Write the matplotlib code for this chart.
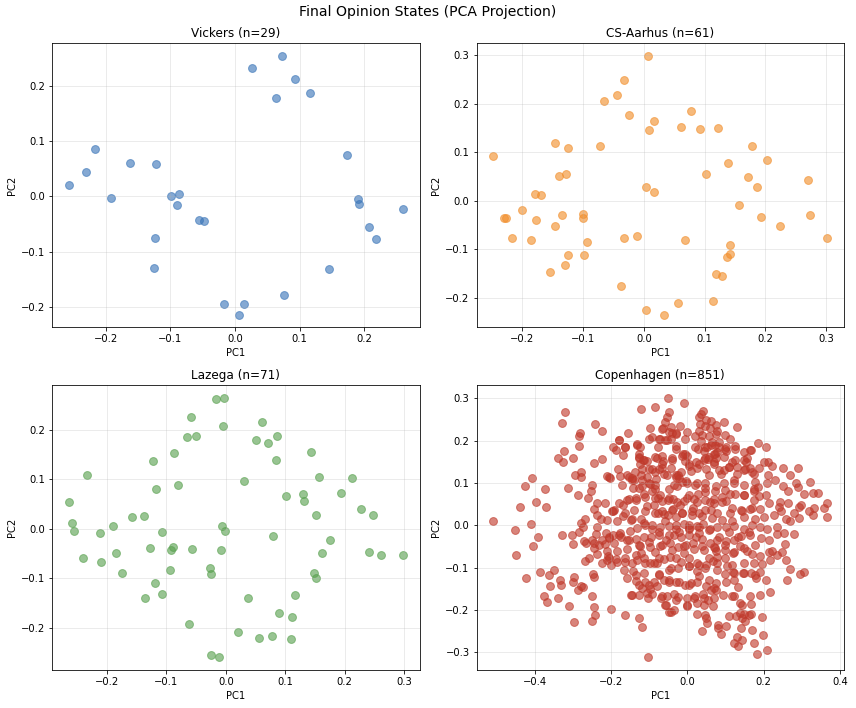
import numpy as np
import matplotlib
matplotlib.use("Agg")
import matplotlib.pyplot as plt

# Vickers (n=29)
vic_pc1 = [-0.257, -0.230, -0.217, -0.192, -0.162, -0.122, -0.099, -0.086, -0.089, -0.056,
           -0.048, -0.124, -0.126, -0.017, 0.014, 0.007, 0.026, 0.073, 0.063, 0.093,
           0.116, 0.076, 0.145, 0.174, 0.190, 0.192, 0.207, 0.219, 0.260]
vic_pc2 = [0.020, 0.045, 0.085, -0.003, 0.061, 0.058, 0.001, 0.004, -0.015, -0.043,
           -0.044, -0.075, -0.130, -0.195, -0.195, -0.214, 0.232, 0.254, 0.178, 0.213,
           0.188, -0.178, -0.131, 0.075, -0.004, -0.013, -0.055, -0.077, -0.023]

# CS-Aarhus (n=61)
aar_pc1 = [-0.248, -0.230, -0.227, -0.218, -0.201, -0.186, -0.180, -0.169, -0.178, -0.155,
           -0.146, -0.147, -0.140, -0.129, -0.135, -0.125, -0.125, -0.130, -0.100, -0.100,
           -0.093, -0.098, -0.072, -0.066, -0.045, -0.032, -0.025, -0.033, -0.038, -0.012,
           0.006, 0.017, 0.009, 0.004, 0.016, 0.003, 0.033, 0.056, 0.061, 0.067,
           0.077, 0.092, 0.122, 0.103, 0.113, 0.119, 0.129, 0.136, 0.142, 0.142,
           0.138, 0.156, 0.172, 0.178, 0.187, 0.192, 0.203, 0.224, 0.270, 0.273,
           0.302]
aar_pc2 = [0.092, -0.036, -0.035, -0.077, -0.018, -0.080, 0.015, 0.013, -0.040, -0.146,
           0.120, -0.051, 0.052, 0.055, -0.029, 0.108, -0.112, -0.133, -0.027, -0.035,
           -0.084, -0.111, 0.113, 0.206, 0.217, 0.249, 0.177, -0.077, -0.176, -0.073,
           0.298, 0.164, 0.146, 0.029, 0.019, -0.224, -0.234, -0.211, 0.152, -0.081,
           0.184, 0.148, 0.149, 0.055, -0.207, -0.150, -0.155, -0.116, -0.109, -0.091,
           0.078, -0.008, 0.049, 0.113, 0.028, -0.033, 0.085, -0.052, 0.044, -0.030,
           -0.076]

# Lazega (n=71)
laz_pc1 = [-0.264, -0.259, -0.256, -0.240, -0.233, -0.212, -0.210, -0.189, -0.184, -0.174,
           -0.158, -0.137, -0.136, -0.127, -0.122, -0.117, -0.120, -0.108, -0.108, -0.093,
           -0.089, -0.094, -0.088, -0.080, -0.065, -0.058, -0.051, -0.057, -0.062, -0.026,
           -0.025, -0.025, -0.012, -0.016, -0.003, -0.004, -0.007, -0.002, -0.008, 0.021,
           0.030, 0.038, 0.050, 0.055, 0.061, 0.071, 0.077, 0.080, 0.086, 0.085,
           0.089, 0.101, 0.109, 0.111, 0.116, 0.130, 0.132, 0.143, 0.151, 0.156,
           0.148, 0.152, 0.162, 0.176, 0.193, 0.213, 0.227, 0.241, 0.248, 0.261,
           0.298]
laz_pc2 = [0.054, 0.011, -0.005, -0.058, 0.109, -0.008, -0.067, 0.006, -0.048, -0.088,
           0.024, 0.026, -0.139, -0.039, 0.137, 0.081, -0.109, -0.006, -0.131, -0.042,
           -0.037, -0.083, 0.153, 0.089, 0.185, 0.226, 0.187, -0.040, -0.191, -0.079,
           -0.090, -0.254, -0.258, 0.262, 0.263, 0.208, 0.005, -0.005, -0.042, -0.207,
           0.097, -0.139, 0.179, -0.221, 0.215, 0.173, -0.216, -0.014, 0.187, 0.139,
           -0.170, 0.067, -0.222, -0.177, -0.134, 0.071, 0.057, 0.154, 0.028, 0.105,
           -0.089, -0.099, -0.049, -0.023, 0.072, 0.103, 0.040, -0.047, 0.027, -0.053,
           -0.053]

# Copenhagen (n=851), dense core approximated
cph_pc1 = [
    # sparse left side
    -0.509, -0.452, -0.449, -0.439, -0.427, -0.424, -0.411, -0.407, -0.406, -0.397,
    -0.392, -0.386, -0.376, -0.374, -0.371, -0.369, -0.362, -0.361, -0.350, -0.340,
    -0.338, -0.333, -0.331, -0.330, -0.326, -0.324, -0.329, -0.320, -0.314, -0.310,
    -0.301, -0.303, -0.300, -0.301, -0.298, -0.297, -0.295, -0.287, -0.286, -0.283,
    -0.283, -0.281, -0.280, -0.280, -0.279, -0.275, -0.283, -0.280, -0.275, -0.270,
    -0.269, -0.267, -0.269, -0.261, -0.259, -0.254, -0.251, -0.251, -0.249, -0.247,
    -0.246, -0.245, -0.244, -0.245, -0.245, -0.242, -0.242, -0.240, -0.237, -0.238,
    -0.237, -0.238, -0.227, -0.223, -0.223, -0.223, -0.223, -0.213, -0.211, -0.209,
    -0.205, -0.205, -0.201, -0.199, -0.198,
    # top band
    -0.050, -0.010, -0.121, -0.085, -0.047, 0.040, 0.036, 0.030, 0.049, 0.061,
    0.096, 0.130, -0.053, -0.059, -0.064, -0.043, -0.019, -0.040, -0.029, 0.000,
    0.034, 0.045, 0.060, 0.074, 0.076, 0.030, 0.020, 0.098, 0.112, -0.155,
    -0.098, -0.094, -0.101, -0.072, -0.053, -0.007, -0.180, 0.185,
    # 0.1 .. 0.2
    -0.194, -0.187, -0.163, -0.168, -0.132, -0.125, -0.128, -0.127, -0.117, -0.107,
    -0.077, -0.080, -0.031, -0.030, -0.011, -0.002, 0.021, 0.023, 0.037, 0.044,
    0.052, 0.062, 0.072, 0.046, 0.054, 0.071, 0.077, 0.074, 0.069, 0.050,
    0.082, 0.102, 0.101, 0.124, 0.149, 0.168, 0.157, 0.154, 0.206, 0.124,
    0.130, 0.108, 0.095, 0.087, 0.148, 0.163, 0.189, 0.200, 0.211, 0.223,
    0.251, 0.289, 0.174, 0.268, 0.211, -0.210, -0.204, -0.182, -0.178,
    -0.152, -0.146, -0.137, -0.118, -0.121, -0.093, -0.066, -0.042, -0.053, -0.024,
    -0.031, -0.017, 0.010, 0.025, -0.041, -0.067, -0.065, -0.106, -0.081, -0.005, 0.003,
    # 0.0 .. 0.1
    -0.140, -0.142, -0.120, -0.097, -0.086, -0.049, -0.027, -0.003, 0.025, 0.045,
    0.076, 0.097, 0.123, 0.149, 0.176, 0.184, 0.210, 0.231, 0.251, 0.263,
    0.286, 0.289, 0.322, 0.329, 0.342, 0.306, 0.367, 0.357, 0.331, 0.320,
    0.329, 0.366, 0.299, 0.294, 0.279, 0.292, 0.264, 0.244, 0.240, 0.245,
    0.226, 0.214, 0.207, 0.187, 0.174, 0.149, 0.124, 0.111, 0.092, 0.102,
    0.071, 0.060, 0.045, 0.028, 0.017, 0.003, -0.010, -0.020, -0.038, -0.052,
    -0.066, -0.076, -0.088, -0.078, -0.062, -0.052, -0.039, -0.029, -0.013, 0.015,
    0.013, 0.031, 0.045, 0.063, 0.079, 0.113, 0.141, 0.165, 0.190, 0.148,
    0.178, 0.200, 0.258, 0.269, -0.114, -0.135, -0.153, -0.169, -0.195, -0.170,
    -0.145, -0.121, -0.106, -0.216,
    # 0.0 .. -0.1
    -0.196, -0.176, -0.151, -0.132, -0.111, -0.092, -0.071, -0.048, -0.029,
    -0.010, 0.003, 0.025, 0.041, 0.059, 0.079, 0.100, 0.123, 0.148, 0.170,
    0.191, 0.210, 0.235, 0.254, 0.279, 0.256, 0.235, 0.213, 0.193, 0.165,
    0.141, 0.123, 0.100, 0.078, 0.059, 0.039, 0.022, 0.003, -0.017, -0.036,
    -0.055, -0.074, -0.095, -0.114, -0.134, -0.153, -0.174, -0.193, -0.215, -0.244,
    -0.210, -0.184, -0.158, -0.123, -0.121, -0.097, -0.071, -0.045, -0.024, -0.004,
    0.017, 0.039, 0.071, 0.076, 0.099, 0.120, 0.139, 0.156, 0.170, 0.191,
    0.213, 0.221, 0.235, 0.249, 0.216, 0.195, 0.259, 0.176, 0.148, 0.118,
    0.099, 0.079, 0.067, 0.048, 0.025, 0.004, -0.010, -0.029, -0.045, -0.062,
    -0.079, -0.097, -0.114, -0.132, -0.146, -0.163, -0.188,
    # -0.1 .. -0.2
    -0.167, -0.142, -0.113, -0.074, -0.048, -0.024, 0.003, 0.025, 0.045, 0.078,
    0.099, 0.120, 0.146, 0.167, 0.190, 0.207, 0.261, 0.268, 0.295, 0.305,
    0.181, -0.159, -0.136, -0.111, -0.087, -0.062, -0.048, -0.029, -0.006, 0.010,
    0.025, 0.048, 0.074, 0.102, 0.123, 0.132, 0.165, 0.191, 0.216, 0.167,
    0.139, 0.116, 0.093, 0.076, 0.062, 0.041, 0.018, -0.001, -0.024, -0.036,
    -0.053, -0.069, -0.079, -0.099, -0.104, -0.127, -0.149, -0.118, -0.093, -0.057,
    -0.036, -0.048, -0.001, 0.025, 0.043, 0.066, 0.053, 0.069,
    # below -0.2
    -0.163, -0.127, -0.118, -0.102, 0.024, 0.046, 0.048, 0.052, 0.039, 0.080,
    0.080, 0.087, 0.101, 0.109, 0.127, 0.143, 0.148, 0.143, 0.167, 0.151,
    0.141, 0.169, 0.195, 0.130, 0.144, 0.121, 0.132, 0.174, 0.198, 0.209, 0.183,
    # dense core, upper right
    -0.067, -0.049, -0.031, -0.042, -0.075, -0.058, 0.038, 0.057, 0.078, 0.064,
    0.082, 0.047, 0.028, 0.073, 0.056, 0.069, 0.043, 0.099, 0.126, 0.095,
    0.117, 0.148, 0.165, 0.152, 0.169, 0.130, 0.108, 0.082, 0.056, 0.030,
    0.003, -0.005, -0.014, -0.040, -0.067, -0.084, -0.075, -0.062, -0.031, -0.023,
    -0.036, -0.014, -0.001, 0.021, 0.047, 0.073, 0.099, 0.121, 0.148, 0.174,
    0.178, -0.071, -0.049, -0.027, -0.001, 0.025, 0.047, 0.069, 0.091, 0.117,
    0.143, 0.169, -0.067, -0.040, -0.014, 0.012, 0.038, 0.064, 0.091, 0.117,
    -0.058, -0.031, 0.003, 0.030,
    # dense core, lower right
    -0.075, -0.049, -0.023, 0.003, 0.030, 0.056, 0.082, 0.108, 0.134, 0.161,
    -0.067, -0.040, -0.010, 0.016, 0.043, 0.073, 0.099, 0.121, 0.148, 0.178,
    -0.075, -0.044, -0.018, 0.003, 0.030, 0.056, 0.078, 0.104, 0.121, 0.148,
    0.178, -0.075, -0.049, -0.023, 0.003, 0.030, 0.056, 0.069, 0.021, 0.043,
    -0.067, -0.031, -0.001, -0.058, -0.044, 0.121, 0.139, 0.161,
    # dense core, upper left
    -0.128, -0.115, -0.123, -0.101, -0.084, -0.132, -0.163, -0.180, -0.158, -0.145,
    -0.119, -0.101, -0.084, -0.171, -0.128, -0.093, -0.136, -0.110, -0.084, -0.158,
    -0.180, -0.193, -0.163, -0.141, -0.110, -0.084, -0.211, -0.184, -0.149, -0.115, -0.093,
    # dense core, lower left
    -0.206, -0.180, -0.158, -0.128, -0.101, -0.084, -0.232, -0.250, -0.206, -0.184,
    -0.163, -0.136, -0.110, -0.088, -0.136, -0.128, -0.106, -0.145, -0.101,
]
cph_pc2 = [
    # sparse left side
    0.011, -0.010, -0.070, 0.044, 0.093, -0.125, 0.002, 0.111, -0.049, 0.054,
    -0.028, -0.110, -0.168, 0.086, 0.043, -0.182, -0.118, -0.143, -0.105, 0.158,
    -0.173, -0.130, -0.140, 0.242, 0.149, 0.176, -0.024, 0.267, 0.088, -0.190,
    0.159, -0.024, -0.045, -0.133, -0.122, -0.229, 0.118, 0.072, -0.152, 0.211,
    0.187, 0.218, 0.125, 0.114, -0.143, -0.145, -0.016, 0.005, -0.003, -0.036,
    0.015, -0.042, -0.085, 0.064, -0.078, 0.080, -0.166, -0.227, 0.096, -0.115,
    -0.122, -0.042, -0.194, 0.147, 0.038, 0.240, -0.213, -0.021, -0.003, -0.068,
    0.053, 0.024, 0.014, 0.224, 0.156, -0.090, -0.035, -0.018, -0.082, -0.072,
    0.114, -0.029, -0.198, -0.095, 0.033,
    # top band
    0.300, 0.290, 0.276, 0.279, 0.267, 0.270, 0.263, 0.256, 0.250, 0.246,
    0.245, 0.232, 0.256, 0.245, 0.229, 0.232, 0.234, 0.218, 0.218, 0.221,
    0.240, 0.235, 0.231, 0.237, 0.216, 0.223, 0.211, 0.213, 0.204, 0.219,
    0.230, 0.209, 0.205, 0.205, 0.201, 0.203, 0.201, 0.195,
    # 0.1 .. 0.2
    0.184, 0.179, 0.186, 0.166, 0.193, 0.184, 0.169, 0.160, 0.155, 0.152,
    0.184, 0.160, 0.187, 0.181, 0.169, 0.165, 0.185, 0.149, 0.199, 0.176,
    0.185, 0.191, 0.189, 0.160, 0.157, 0.169, 0.173, 0.160, 0.146, 0.133,
    0.196, 0.184, 0.175, 0.187, 0.174, 0.177, 0.160, 0.149, 0.185, 0.155,
    0.138, 0.138, 0.130, 0.122, 0.130, 0.135, 0.136, 0.149, 0.150, 0.141,
    0.136, 0.136, 0.122, 0.118, 0.118, 0.116, 0.112, 0.132, 0.117,
    0.114, 0.111, 0.125, 0.132, 0.118, 0.133, 0.135, 0.135, 0.119, 0.118,
    0.113, 0.127, 0.129, 0.135, 0.155, 0.163, 0.151, 0.115, 0.110, 0.152, 0.141,
    # 0.0 .. 0.1
    0.107, 0.088, 0.093, 0.097, 0.086, 0.086, 0.094, 0.104, 0.100, 0.099,
    0.093, 0.099, 0.107, 0.096, 0.086, 0.091, 0.099, 0.107, 0.093, 0.082,
    0.099, 0.091, 0.102, 0.077, 0.077, 0.074, 0.052, 0.042, 0.042, 0.033,
    0.024, 0.020, 0.049, 0.044, 0.028, 0.017, 0.053, 0.055, 0.044, 0.033,
    0.024, 0.052, 0.071, 0.069, 0.060, 0.072, 0.075, 0.074, 0.067, 0.058,
    0.061, 0.055, 0.078, 0.075, 0.063, 0.071, 0.058, 0.049, 0.061, 0.060,
    0.058, 0.064, 0.047, 0.028, 0.027, 0.025, 0.039, 0.020, 0.030, 0.041,
    0.024, 0.028, 0.036, 0.035, 0.028, 0.028, 0.036, 0.038, 0.039, 0.020,
    0.014, 0.020, 0.016, 0.009, 0.075, 0.064, 0.063, 0.049, 0.033, 0.022,
    0.016, 0.014, 0.045, 0.053,
    # 0.0 .. -0.1
    -0.024, -0.019, -0.014, -0.007, 0.000, -0.009, -0.003, -0.002, -0.008,
    0.003, -0.008, -0.002, 0.003, -0.008, -0.003, -0.005, -0.002, -0.008, 0.000,
    -0.003, -0.009, -0.005, -0.019, -0.020, -0.045, -0.020, -0.035, -0.030, -0.024,
    -0.025, -0.035, -0.038, -0.035, -0.042, -0.033, -0.027, -0.022, -0.027, -0.022,
    -0.035, -0.024, -0.027, -0.027, -0.033, -0.035, -0.027, -0.042, -0.044, -0.053,
    -0.061, -0.060, -0.055, -0.049, -0.066, -0.052, -0.049, -0.042, -0.052, -0.047,
    -0.056, -0.050, -0.052, -0.060, -0.058, -0.066, -0.050, -0.061, -0.067, -0.072,
    -0.063, -0.060, -0.071, -0.063, -0.082, -0.091, -0.083, -0.088, -0.089, -0.093,
    -0.078, -0.074, -0.085, -0.094, -0.089, -0.078, -0.066, -0.078, -0.074, -0.080,
    -0.088, -0.088, -0.078, -0.082, -0.089, -0.086, -0.080,
    # -0.1 .. -0.2
    -0.105, -0.108, -0.113, -0.115, -0.105, -0.102, -0.097, -0.107, -0.102, -0.105,
    -0.116, -0.110, -0.113, -0.113, -0.111, -0.129, -0.129, -0.104, -0.116, -0.111,
    -0.124, -0.125, -0.132, -0.133, -0.135, -0.129, -0.133, -0.135, -0.140, -0.136,
    -0.133, -0.143, -0.136, -0.133, -0.129, -0.147, -0.166, -0.165, -0.158, -0.187,
    -0.184, -0.166, -0.165, -0.154, -0.152, -0.163, -0.173, -0.173, -0.169, -0.162,
    -0.168, -0.171, -0.144, -0.151, -0.171, -0.165, -0.165, -0.149, -0.162, -0.188,
    -0.201, -0.205, -0.191, -0.184, -0.188, -0.191, -0.176, -0.171,
    # below -0.2
    -0.213, -0.218, -0.240, -0.311, -0.209, -0.213, -0.220, -0.232, -0.251, -0.235,
    -0.242, -0.257, -0.237, -0.215, -0.215, -0.188, -0.209, -0.218, -0.210, -0.227,
    -0.243, -0.248, -0.216, -0.264, -0.271, -0.279, -0.285, -0.279, -0.259, -0.295, -0.305,
    # dense core, upper right
    0.228, 0.220, 0.216, 0.205, 0.205, 0.201, 0.214, 0.212, 0.224, 0.197,
    0.185, 0.185, 0.181, 0.169, 0.162, 0.150, 0.154, 0.181, 0.181, 0.162,
    0.150, 0.154, 0.177, 0.134, 0.126, 0.122, 0.138, 0.130, 0.118, 0.146,
    0.146, 0.169, 0.165, 0.158, 0.146, 0.162, 0.134, 0.122, 0.118, 0.111,
    0.095, 0.103, 0.099, 0.095, 0.088, 0.080, 0.084, 0.099, 0.072, 0.080,
    0.103, 0.072, 0.064, 0.056, 0.064, 0.056, 0.060, 0.052, 0.056, 0.040,
    0.033, 0.040, 0.033, 0.037, 0.029, 0.033, 0.021, 0.017, 0.013, 0.009,
    0.009, 0.001, 0.001, -0.003,
    # dense core, lower right
    -0.015, -0.023, -0.015, -0.007, -0.019, -0.011, -0.027, -0.015, -0.027, -0.015,
    -0.046, -0.058, -0.050, -0.043, -0.058, -0.054, -0.046, -0.062, -0.054, -0.046,
    -0.078, -0.101, -0.086, -0.097, -0.093, -0.078, -0.089, -0.097, -0.113, -0.113,
    -0.117, -0.117, -0.129, -0.133, -0.140, -0.121, -0.129, -0.148, -0.168, -0.172,
    -0.168, -0.176, -0.188, -0.188, -0.205, -0.168, -0.207, -0.211,
    # dense core, upper left
    0.162, 0.154, 0.146, 0.134, 0.126, 0.189, 0.185, 0.201, 0.118, 0.107,
    0.107, 0.099, 0.095, 0.095, 0.088, 0.080, 0.060, 0.068, 0.064, 0.060,
    0.052, 0.037, 0.029, 0.037, 0.033, 0.029, 0.013, 0.009, 0.013, 0.005, 0.001,
    # dense core, lower left
    -0.027, -0.023, -0.035, -0.046, -0.039, -0.062, -0.046, -0.035, -0.078, -0.086,
    -0.078, -0.070, -0.089, -0.089, -0.117, -0.140, -0.160, -0.164, -0.140,
]

titles = ["Vickers (n=29)", "CS-Aarhus (n=61)", "Lazega (n=71)", "Copenhagen (n=851)"]
colors = ["#3a75b8", "#f28e2b", "#59a14f", "#c0392b"]
datasets = [(vic_pc1, vic_pc2), (aar_pc1, aar_pc2), (laz_pc1, laz_pc2), (cph_pc1, cph_pc2)]

fig, axes = plt.subplots(2, 2, figsize=(856 / 72, 708 / 72), dpi=72)
fig.subplots_adjust(left=0.061, right=0.986, top=0.939, bottom=0.054, wspace=0.155, hspace=0.204)

for ax, (px, py), title, col in zip(axes.flat, datasets, titles, colors):
    ax.scatter(px, py, s=62, color=col, alpha=0.62)
    ax.set_title(title, fontsize=12)
    ax.set_xlabel("PC1")
    ax.set_ylabel("PC2")
    ax.grid(True, alpha=0.3)

fig.suptitle("Final Opinion States (PCA Projection)", fontsize=14, y=0.983, va="center")
fig.savefig("out.png", dpi=72)
